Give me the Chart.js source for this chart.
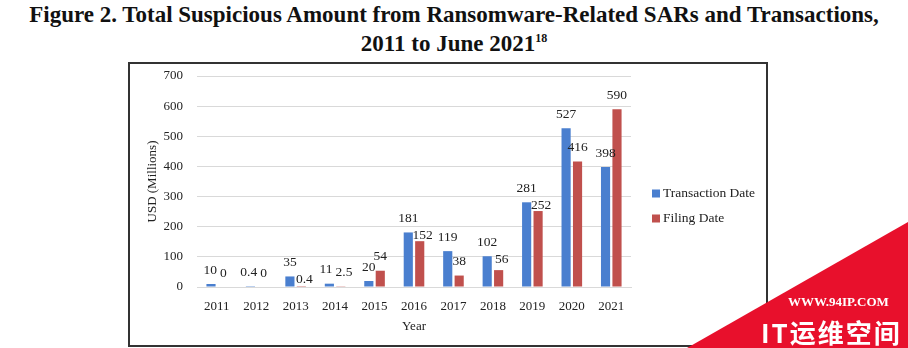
<!DOCTYPE html>
<html>
<head>
<meta charset="utf-8">
<script src="https://cdn.jsdelivr.net/npm/chart.js@4.4.0/dist/chart.umd.min.js"></script>
<style>
  html, body { margin: 0; padding: 0; background: #fff; }
  body { width: 908px; height: 348px; position: relative; overflow: hidden; font-family: "Liberation Serif", serif; }
  .title { position: absolute; left: 0; top: 0; width: 908px; text-align: center; font-weight: bold; font-size: 23px; line-height: 29px; color: #111; }
  .title sup { font-size: 12px; line-height: 0; }
  .box { position: absolute; left: 128px; top: 62px; width: 636px; height: 281px; border: 2px solid #333; }
  .wrap { position: absolute; left: 0; top: 0; width: 636px; height: 281px; }
  .wm { position: absolute; left: 0; top: 0; width: 908px; height: 348px; background: #e8102c; clip-path: polygon(687px 348px, 908px 222px, 908px 348px); }
  .wm1 { position: absolute; left: 788px; top: 294px; font: bold 13px "Liberation Serif", serif; color: #fff; }
  .wm2 { position: absolute; left: 761px; top: 316px; font: bold 26px "Noto Sans CJK SC", sans-serif; color: #fff; line-height: 32px; letter-spacing: 2px; }
</style>
</head>
<body>
<div class="title">Figure 2. Total Suspicious Amount from Ransomware-Related SARs and Transactions,<br>2011 to June 2021<sup>18</sup></div>
<div class="box"><div class="wrap"><canvas id="chart"></canvas></div></div>
<div class="wm"></div>
<div class="wm1">WWW.94IP.COM</div>
<div class="wm2">IT运维空间</div>
<script>
const years = ["2011", "2012", "2013", "2014", "2015", "2016", "2017", "2018", "2019", "2020", "2021"];
const transactionDate = [10, 0.4, 35, 11, 20, 181, 119, 102, 281, 527, 398];
const filingDate = [0, 0, 0.4, 2.5, 54, 152, 38, 56, 252, 416, 590];
const yTicks = [0, 100, 200, 300, 400, 500, 600, 700];

const font = "'Liberation Serif', serif";

// value labels above each bar, nudged apart when two of them collide
const barLabels = {
  id: "barLabels",
  afterDatasetsDraw(chart) {
    const ctx = chart.ctx;
    ctx.save();
    ctx.font = "13.5px " + font;
    ctx.fillStyle = "#222";
    ctx.textAlign = "center";
    ctx.textBaseline = "middle";
    const labels = [];
    chart.data.datasets.forEach((ds, i) => {
      chart.getDatasetMeta(i).data.forEach((bar, j) => {
        const text = String(ds.data[j]);
        labels.push({ text, x: bar.x, y: bar.y - 14, w: ctx.measureText(text).width });
      });
    });
    labels.sort((a, b) => a.x - b.x);
    for (let k = 1; k < labels.length; k++) {
      const a = labels[k - 1], b = labels[k];
      const need = (a.w + b.w) / 2 + 3;
      if (b.x - a.x >= need) continue;
      const dy = b.y - a.y;
      if (Math.abs(dy) < 5) {
        const push = (need - (b.x - a.x)) / 2;
        a.x -= push;
        b.x += push;
      } else if (dy > 0 && dy < 14) {
        b.y = a.y + 17;
        b.x += 3;
      }
    }
    labels.forEach(l => ctx.fillText(l.text, l.x, l.y));
    ctx.restore();
  }
};

// legend on the right, Excel style (small square, tight text)
const sideLegend = {
  id: "sideLegend",
  afterDraw(chart) {
    const ctx = chart.ctx;
    const sets = chart.data.datasets;
    const x = chart.chartArea.right + 21;
    const y0 = chart.height / 2 + 1.5 - (sets.length - 1) * 12.5;
    ctx.save();
    ctx.font = "13.5px " + font;
    ctx.textBaseline = "middle";
    sets.forEach((ds, i) => {
      const y = y0 + i * 25;
      ctx.fillStyle = ds.backgroundColor;
      ctx.fillRect(x, y - 4, 8, 8);
      ctx.fillStyle = "#222";
      ctx.fillText(ds.label, x + 11, y);
    });
    ctx.restore();
  }
};

new Chart(document.getElementById("chart"), {
  type: "bar",
  data: {
    labels: years,
    datasets: [
      { label: "Transaction Date", data: transactionDate, backgroundColor: "#4a7fcf" },
      { label: "Filing Date", data: filingDate, backgroundColor: "#c0504d" }
    ]
  },
  options: {
    responsive: true,
    maintainAspectRatio: false,
    animation: false,
    categoryPercentage: 0.58,
    barPercentage: 0.8,
    layout: { padding: { left: 11, right: 135, top: 4, bottom: 0 } },
    scales: {
      x: {
        grid: { display: false, drawTicks: false },
        border: { color: "#d9d9d9" },
        ticks: { color: "#222", font: { family: font, size: 13 }, padding: 12 },
        title: { display: true, text: "Year", color: "#222", font: { family: font, size: 13 }, padding: { top: 0, bottom: 11 } },
        afterFit: axis => { axis.height = 58; }
      },
      y: {
        min: 0,
        max: 700,
        afterBuildTicks: axis => { axis.ticks = yTicks.map(v => ({ value: v })); },
        afterFit: axis => { axis.width = 56; axis.paddingTop = 12; axis.paddingBottom = 8; },
        grid: { color: "#d9d9d9", drawTicks: false },
        border: { display: false },
        ticks: { color: "#222", font: { family: font, size: 13 }, padding: 14 },
        title: { display: true, text: "USD (Millions)", color: "#222", font: { family: font, size: 13 }, padding: { top: 4, bottom: 0 } }
      }
    },
    plugins: {
      legend: { display: false },
      tooltip: { enabled: false },
      title: { display: false }
    }
  },
  plugins: [barLabels, sideLegend]
});
</script>
</body>
</html>
